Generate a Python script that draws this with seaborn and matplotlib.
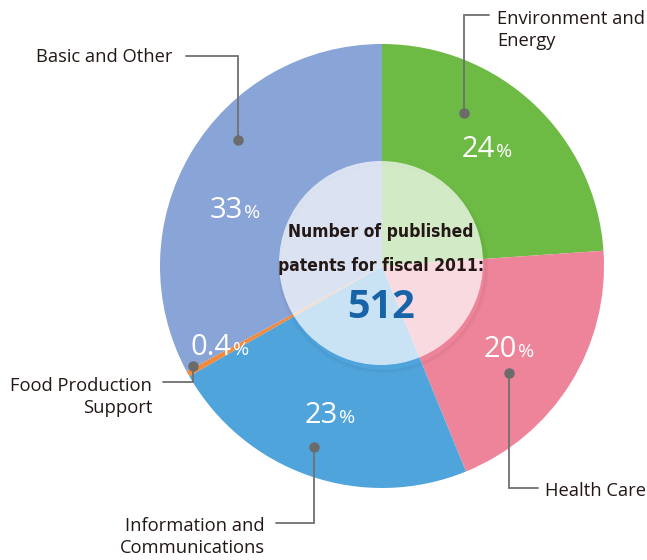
import matplotlib
matplotlib.use("Agg")
import matplotlib.pyplot as plt
from matplotlib.patches import Circle, Wedge
import numpy as np
import seaborn as sns

# ---- data ----
categories = ["Environment and Energy", "Health Care", "Information and Communications",
              "Food Production Support", "Basic and Other"]
shares = [24, 20, 23, 0.4, 33]
pct_text = ["24", "20", "23", "0.4", "33"]
total_patents = 512
center_title = ["Number of published", "patents for fiscal 2011:"]

colors = ["#6dba45", "#ee8499", "#50a4dc", "#f08a3c", "#89a4d6"]

sns.set_theme(style="white")
plt.rcParams["font.family"] = ["Open Sans", "DejaVu Sans"]

W, H = 647, 560
fig = plt.figure(figsize=(W / 100, H / 100), dpi=100)
ax = fig.add_axes([0, 0, 1, 1])

def Y(y):
    return H - y

cx, cy, R = 382, Y(266), 222

wedges, _ = ax.pie(shares, colors=colors, startangle=90, counterclock=False,
                   radius=R, center=(cx, cy), wedgeprops=dict(linewidth=0))

# center shadow + translucent disc
cr = 102
for i, a in enumerate([0.05, 0.035, 0.02, 0.01]):
    ax.add_patch(Wedge((cx + 1, cy - 2), cr + 1 + i, 0, 360, width=1.2,
                       facecolor="black", alpha=a, linewidth=0))
ax.add_patch(Circle((cx - 1, cy + 3), cr, facecolor="white", alpha=0.70, linewidth=0, zorder=3))

txtc = "#231815"
for line, ly in zip(center_title, [232, 266]):
    ax.text(cx - 1, Y(ly), line, ha="center", va="center", fontsize=12.5,
            fontweight="bold", color=txtc, fontstretch="condensed",
            family=["DejaVu Sans"], zorder=5)
ax.text(cx - 1, Y(307), str(total_patents), ha="center", va="center", fontsize=28.5,
        fontweight="bold", color="#1763a8", zorder=5)

# percentage labels: (digits right edge, baseline)
pct_pos = [(495, 157), (517, 357), (338, 423), (232, 355), (243, 218)]
for (x, y), t in zip(pct_pos, pct_text):
    ax.text(x, Y(y), t, ha="right", va="baseline", fontsize=21, color="white", zorder=4)
    ax.text(x + 1, Y(y), "%", ha="left", va="baseline", fontsize=14, color="white", zorder=4)

# callouts: (dot, path points, text anchor, ha)
lc = "#707070"
callouts = [
    ((464, 113), [(464, 113), (464, 15), (489, 15)], (497, 30), "left", categories[0].replace(" and ", " and\n")),
    ((509, 373), [(509, 373), (509, 488), (538, 488)], (545, 491), "left", "Health Care"),
    ((314, 447), [(314, 447), (314, 523), (276, 523)], (265, 537), "right", "Information and\nCommunications"),
    ((193, 366), [(193, 366), (193, 382), (163, 382)], (152, 397), "right", "Food Production\nSupport"),
    ((238, 140), [(238, 140), (238, 56), (186, 56)], (173, 57), "right", categories[4]),
]
for dot, path, (tx, ty), ha, label in callouts:
    xs = [p[0] for p in path]
    ys = [Y(p[1]) for p in path]
    ax.plot(xs, ys, color=lc, lw=1.3, zorder=6, solid_joinstyle="miter")
    ax.plot([dot[0]], [Y(dot[1])], "o", ms=6.5, color="#6b6b6b", zorder=7)
    ax.text(tx, Y(ty), label, ha=ha, va="center", fontsize=13.2, color=txtc,
            linespacing=1.3, zorder=7)

ax.set_xlim(0, W)
ax.set_ylim(0, H)
ax.set_aspect("auto")
ax.axis("off")
fig.savefig("out.png", dpi=100, facecolor="white")
